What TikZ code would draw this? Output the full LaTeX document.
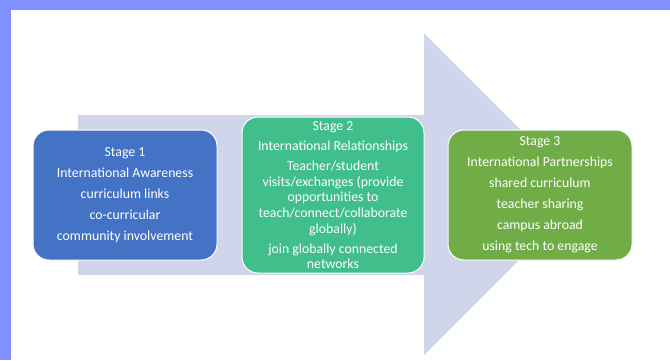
\documentclass[tikz,border=0pt]{standalone}
\usepackage{fontspec}
\setmainfont{Carlito}
\definecolor{frame}{RGB}{128,144,255}
\definecolor{arrowfill}{RGB}{207,213,234}
\definecolor{boxblue}{RGB}{68,114,196}
\definecolor{boxteal}{RGB}{64,190,140}
\definecolor{boxgreen}{RGB}{112,173,71}
\begin{document}
\begin{tikzpicture}[x=1pt,y=-1pt,
  stagebox/.style={draw=white, line width=1pt, rounded corners=16pt, text=white,
    align=center, inner sep=0pt,
    font=\fontsize{13.8}{15.6}\selectfont}]
\useasboundingbox (0,0) rectangle (670,360);
\fill[frame] (0,0) rectangle (670,360);
\fill[white] (11,10) rectangle (670,360);
\fill[arrowfill] (78,115) -- (424,115) -- (424,33) -- (585,194) -- (424,355) -- (424,275) -- (78,275) -- cycle;
\node[stagebox, fill=boxblue, minimum width=184pt, minimum height=130pt] (s1) at (125,195)
  {Stage 1\\[5.4pt]International Awareness\\[5.4pt]curriculum links\\[5.4pt]co-curricular\\[5.4pt]community involvement};
\node[stagebox, fill=boxteal, minimum width=182pt, minimum height=156pt] (s2) at (333,195)
  {Stage 2\\[5pt]International Relationships\\[4.5pt]Teacher/student\\visits/exchanges (provide\\opportunities to\\teach/connect/collaborate\\globally)\\[4.5pt]join globally connected\\networks};
\node[stagebox, fill=boxgreen, minimum width=184pt, minimum height=130pt] (s3) at (540,195)
  {Stage 3\\[5.4pt]International Partnerships\\[5.4pt]shared curriculum\\[5.4pt]teacher sharing\\[5.4pt]campus abroad\\[5.4pt]using tech to engage};
\end{tikzpicture}
\end{document}
